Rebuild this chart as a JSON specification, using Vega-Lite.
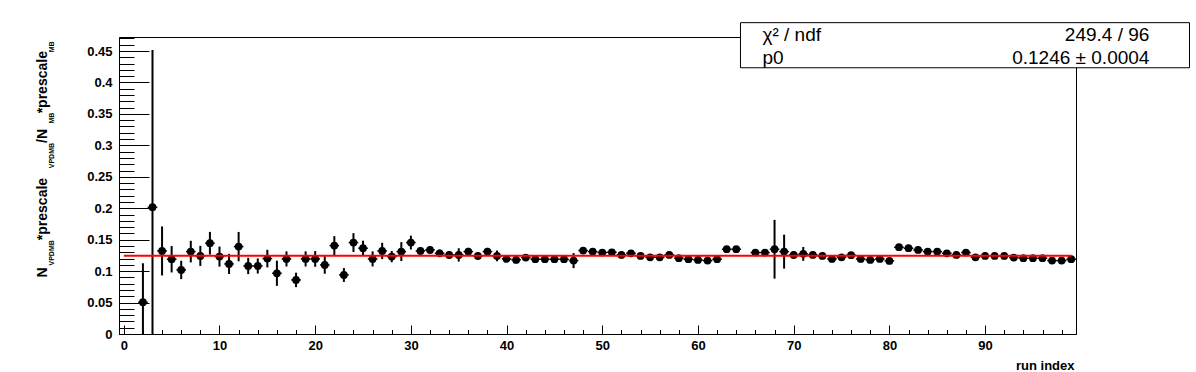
{
  "$schema": "https://vega.github.io/schema/vega-lite/v6.json",
  "width": 957,
  "height": 297,
  "autosize": {"type": "none"},
  "padding": {"left": 119, "top": 37, "right": 120, "bottom": 38},
  "background": "white",
  "config": {
    "view": {"stroke": "black", "strokeWidth": 1},
    "font": "Liberation Sans"
  },
  "datasets": {
    "runs": [
      {"run": 2, "ratio": 0.0505, "err": 0.062},
      {"run": 3, "ratio": 0.2017, "err": 0.25},
      {"run": 4, "ratio": 0.1321, "err": 0.039},
      {"run": 5, "ratio": 0.1189, "err": 0.021},
      {"run": 6, "ratio": 0.1019, "err": 0.0146},
      {"run": 7, "ratio": 0.131, "err": 0.0172},
      {"run": 8, "ratio": 0.1242, "err": 0.016},
      {"run": 9, "ratio": 0.1444, "err": 0.018},
      {"run": 10, "ratio": 0.1231, "err": 0.016},
      {"run": 11, "ratio": 0.1114, "err": 0.016},
      {"run": 12, "ratio": 0.139, "err": 0.0233},
      {"run": 13, "ratio": 0.1082, "err": 0.013},
      {"run": 14, "ratio": 0.1082, "err": 0.012},
      {"run": 15, "ratio": 0.1199, "err": 0.014},
      {"run": 16, "ratio": 0.0966, "err": 0.02},
      {"run": 17, "ratio": 0.1194, "err": 0.012},
      {"run": 18, "ratio": 0.086, "err": 0.0115},
      {"run": 19, "ratio": 0.1194, "err": 0.012},
      {"run": 20, "ratio": 0.1194, "err": 0.0125},
      {"run": 21, "ratio": 0.1098, "err": 0.014},
      {"run": 22, "ratio": 0.1406, "err": 0.015},
      {"run": 23, "ratio": 0.0939, "err": 0.011},
      {"run": 24, "ratio": 0.1454, "err": 0.015},
      {"run": 25, "ratio": 0.1364, "err": 0.012},
      {"run": 26, "ratio": 0.1194, "err": 0.012},
      {"run": 27, "ratio": 0.1321, "err": 0.013},
      {"run": 28, "ratio": 0.1231, "err": 0.009},
      {"run": 29, "ratio": 0.131, "err": 0.015},
      {"run": 30, "ratio": 0.1454, "err": 0.011},
      {"run": 31, "ratio": 0.1321, "err": 0.006},
      {"run": 32, "ratio": 0.1337, "err": 0.006},
      {"run": 33, "ratio": 0.1284, "err": 0.006},
      {"run": 34, "ratio": 0.1258, "err": 0.006},
      {"run": 35, "ratio": 0.1258, "err": 0.0106},
      {"run": 36, "ratio": 0.131, "err": 0.006},
      {"run": 37, "ratio": 0.1242, "err": 0.006},
      {"run": 38, "ratio": 0.131, "err": 0.006},
      {"run": 39, "ratio": 0.1242, "err": 0.0085},
      {"run": 40, "ratio": 0.1194, "err": 0.005},
      {"run": 41, "ratio": 0.1178, "err": 0.005},
      {"run": 42, "ratio": 0.1215, "err": 0.005},
      {"run": 43, "ratio": 0.1189, "err": 0.005},
      {"run": 44, "ratio": 0.1189, "err": 0.005},
      {"run": 45, "ratio": 0.1189, "err": 0.005},
      {"run": 46, "ratio": 0.1189, "err": 0.005},
      {"run": 47, "ratio": 0.1167, "err": 0.012},
      {"run": 48, "ratio": 0.1327, "err": 0.005},
      {"run": 49, "ratio": 0.131, "err": 0.005},
      {"run": 50, "ratio": 0.1295, "err": 0.005},
      {"run": 51, "ratio": 0.13, "err": 0.005},
      {"run": 52, "ratio": 0.1258, "err": 0.005},
      {"run": 53, "ratio": 0.1284, "err": 0.005},
      {"run": 54, "ratio": 0.1242, "err": 0.005},
      {"run": 55, "ratio": 0.122, "err": 0.005},
      {"run": 56, "ratio": 0.122, "err": 0.005},
      {"run": 57, "ratio": 0.1258, "err": 0.005},
      {"run": 58, "ratio": 0.1205, "err": 0.005},
      {"run": 59, "ratio": 0.1189, "err": 0.005},
      {"run": 60, "ratio": 0.1178, "err": 0.005},
      {"run": 61, "ratio": 0.1167, "err": 0.005},
      {"run": 62, "ratio": 0.1189, "err": 0.005},
      {"run": 63, "ratio": 0.1348, "err": 0.005},
      {"run": 64, "ratio": 0.1348, "err": 0.005},
      {"run": 66, "ratio": 0.1295, "err": 0.005},
      {"run": 67, "ratio": 0.1295, "err": 0.005},
      {"run": 68, "ratio": 0.1348, "err": 0.0467},
      {"run": 69, "ratio": 0.131, "err": 0.027},
      {"run": 70, "ratio": 0.1258, "err": 0.006},
      {"run": 71, "ratio": 0.1274, "err": 0.011},
      {"run": 72, "ratio": 0.1258, "err": 0.005},
      {"run": 73, "ratio": 0.1242, "err": 0.005},
      {"run": 74, "ratio": 0.1194, "err": 0.005},
      {"run": 75, "ratio": 0.122, "err": 0.005},
      {"run": 76, "ratio": 0.1253, "err": 0.005},
      {"run": 77, "ratio": 0.1194, "err": 0.005},
      {"run": 78, "ratio": 0.1178, "err": 0.005},
      {"run": 79, "ratio": 0.1194, "err": 0.005},
      {"run": 80, "ratio": 0.1162, "err": 0.005},
      {"run": 81, "ratio": 0.138, "err": 0.005},
      {"run": 82, "ratio": 0.1364, "err": 0.005},
      {"run": 83, "ratio": 0.1337, "err": 0.005},
      {"run": 84, "ratio": 0.131, "err": 0.005},
      {"run": 85, "ratio": 0.131, "err": 0.005},
      {"run": 86, "ratio": 0.1284, "err": 0.005},
      {"run": 87, "ratio": 0.1258, "err": 0.005},
      {"run": 88, "ratio": 0.1295, "err": 0.005},
      {"run": 89, "ratio": 0.122, "err": 0.005},
      {"run": 90, "ratio": 0.1242, "err": 0.005},
      {"run": 91, "ratio": 0.1242, "err": 0.005},
      {"run": 92, "ratio": 0.1242, "err": 0.005},
      {"run": 93, "ratio": 0.1215, "err": 0.005},
      {"run": 94, "ratio": 0.1205, "err": 0.005},
      {"run": 95, "ratio": 0.1205, "err": 0.005},
      {"run": 96, "ratio": 0.1205, "err": 0.005},
      {"run": 97, "ratio": 0.1167, "err": 0.005},
      {"run": 98, "ratio": 0.1167, "err": 0.005},
      {"run": 99, "ratio": 0.1189, "err": 0.005}
    ],
    "fit": [{"xmin": 0, "xmax": 99, "p0": 0.1246}]
  },
  "layer": [
    {
      "data": {"name": "runs"},
      "mark": {"type": "errorbar", "clip": true, "thickness": 2, "color": "black"},
      "encoding": {
        "x": {
          "field": "run",
          "type": "quantitative",
          "scale": {"domain": [-0.5, 99.5], "nice": false, "zero": false},
          "axis": {
            "orient": "bottom",
            "values": [0,2,4,6,8,10,12,14,16,18,20,22,24,26,28,30,32,34,36,38,40,42,44,46,48,50,52,54,56,58,60,62,64,66,68,70,72,74,76,78,80,82,84,86,88,90,92,94,96,98],
            "labelExpr": "datum.value % 10 == 0 ? datum.label : ''",
            "tickSize": {"condition": {"test": "datum.value % 10 == 0", "value": -9}, "value": -4.5},
            "tickColor": "black",
            "tickWidth": 1,
            "domainColor": "black",
            "grid": false,
            "labelPadding": 14,
            "labelFont": "Liberation Sans",
            "labelFontWeight": "bold",
            "labelFontSize": 13,
            "labelColor": "black",
            "labelOverlap": false,
            "labelFlush": false,
            "title": "run index",
            "titleFont": "Liberation Sans",
            "titleFontWeight": "bold",
            "titleFontSize": 13,
            "titleColor": "black",
            "titleAnchor": "end",
            "titleAlign": "right",
            "titleBaseline": "alphabetic",
            "titleX": 955,
            "titleY": 35
          }
        },
        "y": {"field": "ratio", "type": "quantitative", "axis": null},
        "yError": {"field": "err"}
      }
    },
    {
      "data": {"name": "runs"},
      "mark": {"type": "tick", "orient": "horizontal", "size": 9.6, "thickness": 1.5, "color": "black", "opacity": 1},
      "encoding": {
        "x": {"field": "run", "type": "quantitative", "axis": null},
        "y": {"field": "ratio", "type": "quantitative", "axis": null}
      }
    },
    {
      "data": {"name": "runs"},
      "mark": {"type": "circle", "size": 60, "color": "black", "opacity": 1},
      "encoding": {
        "x": {"field": "run", "type": "quantitative", "axis": null},
        "y": {
          "field": "ratio",
          "type": "quantitative",
          "scale": {"domain": [0, 0.4723], "nice": false, "zero": false},
          "axis": {
            "orient": "left",
            "values": [0,0.01,0.02,0.03,0.04,0.05,0.06,0.07,0.08,0.09,0.1,0.11,0.12,0.13,0.14,0.15,0.16,0.17,0.18,0.19,0.2,0.21,0.22,0.23,0.24,0.25,0.26,0.27,0.28,0.29,0.3,0.31,0.32,0.33,0.34,0.35,0.36,0.37,0.38,0.39,0.4,0.41,0.42,0.43,0.44,0.45,0.46,0.47],
            "labelExpr": "round(datum.value*100) % 5 == 0 ? format(datum.value, '~g') : ''",
            "tickSize": {"condition": {"test": "round(datum.value*100) % 5 == 0", "value": -30}, "value": -15},
            "tickColor": "black",
            "tickWidth": 1,
            "domainColor": "black",
            "grid": false,
            "labelPadding": 37,
            "labelFont": "Liberation Sans",
            "labelFontWeight": "bold",
            "labelFontSize": 13,
            "labelColor": "black",
            "labelOverlap": false,
            "labelFlush": false,
            "title": "N\u00a0\u00a0\u00a0\u00a0\u00a0\u00a0\u00a0*prescale\u00a0\u00a0\u00a0\u00a0\u00a0\u00a0\u00a0\u00a0\u00a0/N\u00a0\u00a0\u00a0\u00a0*prescale",
            "titleFont": "Liberation Sans",
            "titleFontWeight": "bold",
            "titleFontSize": 14,
            "titleColor": "black",
            "titleAngle": -90,
            "titleAlign": "left",
            "titleBaseline": "alphabetic",
            "titleX": -73,
            "titleY": 240
          }
        }
      }
    },
    {
      "data": {"name": "fit"},
      "mark": {"type": "rule", "color": "red", "strokeWidth": 2},
      "encoding": {
        "x": {"field": "xmin", "type": "quantitative", "axis": null},
        "x2": {"field": "xmax"},
        "y": {
          "field": "p0",
          "type": "quantitative",
          "axis": {
            "orient": "right",
            "domain": false,
            "ticks": false,
            "labels": false,
            "grid": false,
            "title": "VPDMB\u00a0\u00a0\u00a0\u00a0\u00a0\u00a0\u00a0\u00a0\u00a0\u00a0\u00a0\u00a0\u00a0\u00a0\u00a0\u00a0\u00a0\u00a0\u00a0\u00a0\u00a0\u00a0\u00a0\u00a0\u00a0\u00a0\u00a0\u00a0\u00a0\u00a0\u00a0\u00a0\u00a0\u00a0\u00a0\u00a0\u00a0VPDMB\u00a0\u00a0\u00a0\u00a0\u00a0\u00a0\u00a0\u00a0\u00a0\u00a0MB\u00a0\u00a0\u00a0\u00a0\u00a0\u00a0\u00a0\u00a0\u00a0\u00a0\u00a0\u00a0\u00a0\u00a0\u00a0\u00a0\u00a0\u00a0\u00a0\u00a0\u00a0\u00a0\u00a0\u00a0\u00a0\u00a0\u00a0\u00a0\u00a0\u00a0\u00a0MB",
            "titleFont": "Liberation Sans",
            "titleFontWeight": "bold",
            "titleFontSize": 7,
            "titleColor": "black",
            "titleAngle": -90,
            "titleAlign": "left",
            "titleBaseline": "alphabetic",
            "titleX": -1023,
            "titleY": 228
          }
        }
      }
    },
    {
      "data": {"values": [{}]},
      "mark": {"type": "rect", "fill": "white", "stroke": "black", "strokeWidth": 1},
      "encoding": {
        "x": {"datum": 64.44, "type": "quantitative", "axis": null},
        "x2": {"datum": 111.36},
        "y": {"datum": 0.4951, "type": "quantitative", "axis": null},
        "y2": {"datum": 0.4234}
      }
    },
    {
      "data": {"values": [{}]},
      "mark": {"type": "text", "align": "left", "baseline": "middle", "fontSize": 19, "font": "Liberation Sans", "color": "black"},
      "encoding": {
        "x": {"datum": 66.74, "type": "quantitative", "axis": null},
        "y": {"datum": 0.476, "type": "quantitative", "axis": null},
        "text": {"value": "χ² / ndf"}
      }
    },
    {
      "data": {"values": [{}]},
      "mark": {"type": "text", "align": "left", "baseline": "middle", "fontSize": 19, "font": "Liberation Sans", "color": "black"},
      "encoding": {
        "x": {"datum": 66.74, "type": "quantitative", "axis": null},
        "y": {"datum": 0.4393, "type": "quantitative", "axis": null},
        "text": {"value": "p0"}
      }
    },
    {
      "data": {"values": [{}]},
      "mark": {"type": "text", "align": "right", "baseline": "middle", "fontSize": 19, "font": "Liberation Sans", "color": "black"},
      "encoding": {
        "x": {"datum": 107.17, "type": "quantitative", "axis": null},
        "y": {"datum": 0.476, "type": "quantitative", "axis": null},
        "text": {"value": "249.4 / 96"}
      }
    },
    {
      "data": {"values": [{}]},
      "mark": {"type": "text", "align": "right", "baseline": "middle", "fontSize": 19, "font": "Liberation Sans", "color": "black"},
      "encoding": {
        "x": {"datum": 107.17, "type": "quantitative", "axis": null},
        "y": {"datum": 0.4393, "type": "quantitative", "axis": null},
        "text": {"value": "0.1246 ± 0.0004"}
      }
    }
  ],
  "resolve": {"axis": {"x": "independent", "y": "independent"}}
}
